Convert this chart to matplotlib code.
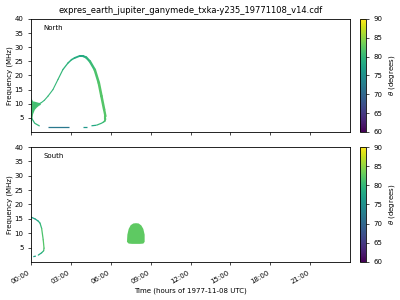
import numpy as np
import matplotlib.pyplot as plt
import matplotlib as mpl
from matplotlib.collections import LineCollection

# North hemisphere: main arc (time in hours, frequency in MHz, theta in degrees)
north_arc_t = [0.6, 0.78, 1.0, 1.28, 1.65, 2.03, 2.4, 2.78, 3.05, 3.28, 3.65, 3.9, 4.15, 4.43, 4.8, 5.1, 5.3, 5.5, 5.6, 5.6, 5.55, 5.45]
north_arc_f = [10.0, 10.4, 11.2, 12.7, 15.0, 18.6, 22.1, 24.4, 25.6, 26.2, 26.9, 26.9, 26.4, 25.0, 22.0, 17.4, 12.7, 8.0, 5.6, 4.6, 3.9, 3.5]
north_arc_theta = [80, 80, 80, 80, 80, 80, 80, 79, 79, 79, 78, 78, 79, 80, 81, 82, 82, 82, 82, 82, 81, 81]
north_arc_lw = [0.8, 0.8, 0.8, 0.8, 0.8, 0.8, 0.9, 1.0, 1.1, 1.2, 1.4, 1.5, 1.6, 1.7, 1.8, 1.9, 1.9, 1.8, 1.6, 1.4, 1.2, 1.0]

# North: emission band close to 00:00
north_band_t = [0.0, 0.12, 0.25, 0.4, 0.55, 0.7]
north_band_lo = [3.0, 6.5, 8.0, 8.8, 9.4, 9.8]
north_band_hi = [12.0, 11.0, 10.9, 10.7, 10.5, 10.3]
north_band_theta = 81

# North: lower return branch, in separate pieces
north_low_segments = [
    ([0.03, 0.28, 0.65], [5.0, 3.1, 2.1], 80),
    ([1.28, 2.0, 2.83], [1.75, 1.75, 1.75], 72),
    ([3.9, 4.2], [1.9, 1.9], 76),
    ([4.55, 4.93], [2.2, 2.4], 78),
    ([4.93, 5.3, 5.45], [2.4, 3.1, 3.5], 80),
]

# South hemisphere arc
south_arc_t = [0.0, 0.3, 0.55, 0.68, 0.8, 0.92, 0.98, 0.95, 0.8, 0.55]
south_arc_f = [15.6, 15.0, 14.2, 13.5, 11.7, 7.7, 4.8, 3.9, 3.2, 2.4]
south_arc_theta = [77, 77, 78, 79, 81, 82, 82, 81, 79, 78]
south_tail_t = [0.22, 0.32]
south_tail_f = [1.9, 2.0]

# South: emission patch near 08:00
south_patch_t = [7.22, 7.25, 7.35, 7.5, 7.7, 7.9, 8.1, 8.3, 8.45, 8.55, 8.55, 8.45, 8.2, 7.9, 7.6, 7.35, 7.22]
south_patch_f = [7.0, 9.5, 11.5, 12.8, 13.4, 13.5, 13.4, 12.7, 11.5, 9.5, 7.0, 6.4, 6.3, 6.3, 6.3, 6.4, 7.0]
south_patch_theta = 82.5

tick_hours = [0, 3, 6, 9, 12, 15, 18, 21]
tick_labels = ['00:00', '03:00', '06:00', '09:00', '12:00', '15:00', '18:00', '21:00']

cmap = plt.get_cmap('viridis')
norm = mpl.colors.Normalize(vmin=60, vmax=90)

fig = plt.figure(figsize=(4, 3), dpi=100)
ax1 = fig.add_axes([0.0775, 0.56, 0.7975, 0.3767])
ax2 = fig.add_axes([0.0775, 0.1267, 0.7975, 0.3833])
cax1 = fig.add_axes([0.9, 0.56, 0.015, 0.3767])
cax2 = fig.add_axes([0.9, 0.1267, 0.015, 0.3833])


def arc(ax, t, f, theta, lw):
    pts = np.column_stack([t, f])
    segs = np.stack([pts[:-1], pts[1:]], axis=1)
    th = (np.array(theta[:-1]) + np.array(theta[1:])) / 2
    if np.isscalar(lw):
        widths = lw
    else:
        widths = (np.array(lw[:-1]) + np.array(lw[1:])) / 2
    lc = LineCollection(segs, colors=cmap(norm(th)), linewidths=widths,
                        capstyle='round', joinstyle='round')
    ax.add_collection(lc)


# North
arc(ax1, north_arc_t, north_arc_f, north_arc_theta, north_arc_lw)
ax1.fill_between(north_band_t, north_band_lo, north_band_hi,
                 color=cmap(norm(north_band_theta)), lw=0)
for t, f, th in north_low_segments:
    ax1.plot(t, f, color=cmap(norm(th)), lw=0.9, solid_capstyle='butt')

# South
arc(ax2, south_arc_t, south_arc_f, south_arc_theta, 0.9)
ax2.plot(south_tail_t, south_tail_f, color=cmap(norm(77)), lw=0.9)
ax2.fill(south_patch_t, south_patch_f, color=cmap(norm(south_patch_theta)), lw=0)

for ax, name in [(ax1, 'North'), (ax2, 'South')]:
    ax.set_xlim(0, 24)
    ax.set_ylim(0, 40)
    ax.set_yticks([5, 10, 15, 20, 25, 30, 35, 40])
    ax.set_xticks(tick_hours)
    ax.tick_params(labelsize=5, length=2, width=0.5)
    ax.set_ylabel('Frequency (MHz)', fontsize=5, labelpad=1)
    ax.text(0.04, 0.9, name, transform=ax.transAxes, fontsize=5)
    for s in ax.spines.values():
        s.set_linewidth(0.6)

ax1.set_xticklabels([])
ax2.set_xticklabels(tick_labels, rotation=30, ha='right')
ax2.set_xlabel('Time (hours of 1977-11-08 UTC)', fontsize=5, labelpad=2)
ax1.set_title('expres_earth_jupiter_ganymede_txka-y235_19771108_v14.cdf', fontsize=6, pad=4)

sm = mpl.cm.ScalarMappable(norm=norm, cmap=cmap)
for cax in (cax1, cax2):
    cb = fig.colorbar(sm, cax=cax)
    cb.set_ticks([60, 65, 70, 75, 80, 85, 90])
    cb.ax.tick_params(labelsize=5, length=2, width=0.5)
    cb.set_label(r'$\theta$ (degrees)', fontsize=5, labelpad=3)
    cb.outline.set_linewidth(0.6)

fig.savefig('out.png', dpi=100)
